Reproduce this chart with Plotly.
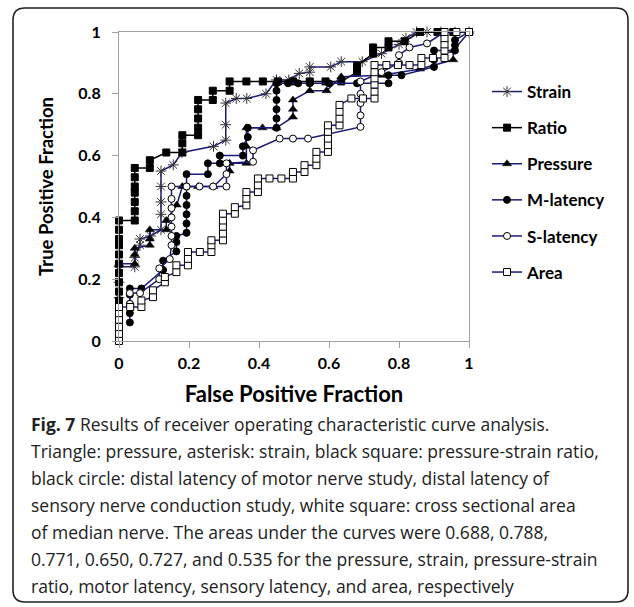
import plotly.graph_objects as go

# ---------------- data ----------------
strain_x = [0, 0, 0, 0.045, 0.045, 0.06, 0.06, 0.09, 0.12, 0.12, 0.12, 0.12, 0.12, 0.155, 0.18, 0.27,
            0.305, 0.305, 0.305, 0.335, 0.365, 0.42, 0.45, 0.485, 0.515, 0.545, 0.545, 0.605, 0.635,
            0.695, 0.75, 0.80, 0.82, 0.85, 0.88, 0.92, 0.96, 1.0]
strain_y = [0.14, 0.19, 0.24, 0.24, 0.27, 0.31, 0.33, 0.34, 0.36, 0.41, 0.45, 0.50, 0.55, 0.57, 0.61, 0.63,
            0.65, 0.70, 0.77, 0.785, 0.785, 0.80, 0.845, 0.845, 0.866, 0.87, 0.887, 0.887, 0.904,
            0.904, 0.93, 0.96, 0.98, 1.0, 1.0, 1.0, 1.0, 1.0]

ratio_x = [0, 0, 0, 0, 0, 0, 0, 0, 0, 0,
           0.045, 0.045, 0.045, 0.045, 0.045, 0.045, 0.045, 0.088, 0.088, 0.135, 0.181, 0.181, 0.181,
           0.226, 0.226, 0.226, 0.226, 0.226, 0.268, 0.268, 0.316, 0.316, 0.364, 0.411, 0.454, 0.497,
           0.545, 0.59, 0.635, 0.68, 0.68, 0.726, 0.726, 0.77, 0.77, 0.816, 0.86, 0.91, 0.955, 1.0]
ratio_y = [0.13, 0.16, 0.19, 0.22, 0.25, 0.28, 0.31, 0.33, 0.36, 0.39,
           0.39, 0.42, 0.45, 0.48, 0.50, 0.53, 0.56, 0.56, 0.585, 0.61, 0.61, 0.64, 0.666,
           0.666, 0.69, 0.72, 0.75, 0.78, 0.78, 0.81, 0.81, 0.84, 0.84, 0.84, 0.84, 0.84,
           0.84, 0.84, 0.84, 0.87, 0.89, 0.93, 0.95, 0.95, 0.97, 0.97, 1.0, 1.0, 1.0, 1.0]

pressure_x = [0, 0.045, 0.045, 0.045, 0.088, 0.088, 0.088, 0.135, 0.135, 0.165, 0.181, 0.226, 0.27,
              0.316, 0.316, 0.364, 0.364, 0.364, 0.41, 0.45, 0.497, 0.497, 0.497, 0.545, 0.593, 0.635,
              0.75, 0.86, 0.955, 0.955, 1.0]
pressure_y = [0.25, 0.25, 0.28, 0.30, 0.31, 0.33, 0.36, 0.36, 0.39, 0.44, 0.50, 0.50, 0.50,
              0.55, 0.575, 0.575, 0.63, 0.69, 0.69, 0.69, 0.725, 0.75, 0.78, 0.81, 0.81, 0.855,
              0.86, 0.88, 0.91, 0.94, 1.0]

mlat_x = [0.031, 0.031, 0.031, 0.031, 0.031, 0.064, 0.126, 0.126, 0.164, 0.164, 0.164, 0.193, 0.193,
          0.193, 0.193, 0.193, 0.193, 0.193, 0.254, 0.254, 0.288, 0.288, 0.354, 0.354, 0.368, 0.368,
          0.45, 0.45, 0.45, 0.45, 0.45, 0.45, 0.483, 0.512, 0.545, 0.60, 0.68, 0.77, 0.77, 0.807,
          0.90, 0.90, 0.90, 0.96, 0.96, 0.96, 1.0]
mlat_y = [0.06, 0.09, 0.12, 0.15, 0.17, 0.17, 0.23, 0.26, 0.29, 0.32, 0.34, 0.35, 0.38,
          0.41, 0.44, 0.47, 0.50, 0.54, 0.54, 0.575, 0.575, 0.60, 0.60, 0.63, 0.66, 0.69,
          0.69, 0.72, 0.75, 0.78, 0.81, 0.834, 0.834, 0.834, 0.834, 0.834, 0.834, 0.834, 0.86, 0.86,
          0.887, 0.91, 0.94, 0.94, 0.957, 0.974, 1.0]

slat_x = [0.031, 0.031, 0.06, 0.115, 0.115, 0.145, 0.15, 0.15, 0.15, 0.15, 0.15, 0.15, 0.15, 0.193,
          0.23, 0.269, 0.307, 0.307, 0.307, 0.383, 0.383, 0.459, 0.497, 0.54, 0.69, 0.69, 0.69, 0.69,
          0.69, 0.75, 0.80, 0.80, 0.83, 0.88, 0.93, 1.0]
slat_y = [0.12, 0.155, 0.155, 0.20, 0.235, 0.265, 0.31, 0.34, 0.37, 0.40, 0.43, 0.46, 0.50, 0.50,
          0.50, 0.50, 0.50, 0.54, 0.575, 0.58, 0.617, 0.655, 0.655, 0.655, 0.693, 0.73, 0.77, 0.80,
          0.84, 0.87, 0.90, 0.925, 0.95, 0.963, 1.0, 1.0]

area_x = [0, 0, 0, 0, 0, 0, 0.032, 0.064, 0.064, 0.097, 0.097, 0.131, 0.131, 0.164, 0.164, 0.197, 0.197,
          0.197, 0.231, 0.264, 0.264, 0.264, 0.297, 0.297, 0.297, 0.297, 0.297, 0.331, 0.331, 0.364,
          0.364, 0.364, 0.397, 0.397, 0.397, 0.43, 0.464, 0.497, 0.497, 0.53, 0.53, 0.564, 0.564, 0.564,
          0.597, 0.597, 0.597, 0.597, 0.597, 0.63, 0.63, 0.63, 0.63, 0.664, 0.697, 0.73, 0.73, 0.73,
          0.73, 0.73, 0.73, 0.764, 0.797, 0.83, 0.864, 0.864, 0.897, 0.93, 0.93, 0.93, 0.93, 0.93,
          0.964, 1.0]
area_y = [0, 0.023, 0.045, 0.069, 0.09, 0.11, 0.11, 0.11, 0.131, 0.142, 0.164, 0.19, 0.207, 0.223, 0.245,
          0.245, 0.266, 0.288, 0.288, 0.288, 0.31, 0.326, 0.326, 0.348, 0.37, 0.39, 0.412, 0.412, 0.433,
          0.439, 0.461, 0.482, 0.482, 0.504, 0.526, 0.526, 0.526, 0.526, 0.547, 0.547, 0.569, 0.569,
          0.59, 0.612, 0.612, 0.634, 0.655, 0.677, 0.698, 0.698, 0.72, 0.742, 0.764, 0.785, 0.785,
          0.785, 0.807, 0.83, 0.85, 0.87, 0.893, 0.893, 0.893, 0.893, 0.893, 0.916, 0.916, 0.916,
          0.94, 0.96, 0.98, 1.0, 1.0, 1.0]

tick_vals = [0, 0.2, 0.4, 0.6, 0.8, 1]
tick_text = ["0", "0.2", "0.4", "0.6", "0.8", "1"]

caption_lines = [
    "<b>Fig. 7</b> Results of receiver operating characteristic curve analysis.",
    "Triangle: pressure, asterisk: strain, black square: pressure-strain ratio,",
    "black circle: distal latency of motor nerve study, distal latency of",
    "sensory nerve conduction study, white square: cross sectional area",
    "of median nerve. The areas under the curves were 0.688, 0.788,",
    "0.771, 0.650, 0.727, and 0.535 for the pressure, strain, pressure-strain",
    "ratio, motor latency, sensory latency, and area, respectively",
]

# ---------------- styling ----------------
W, H = 634, 607
ML, MR, MT, MB = 119, 165, 32, 266
PW, PH = W - ML - MR, H - MT - MB
NAVY = "#1b1b78"
CHART_FONT = "Lato"
CAP_FONT = "Open Sans"


def px_x(p):
    return (p - ML) / PW


def px_y(p):
    return (H - MB - p) / PH


fig = go.Figure()

series = [
    ("Strain", strain_x, strain_y, NAVY, dict(symbol="asterisk-open", size=9, color="#333333",
                                              line=dict(color="#333333", width=1))),
    ("Ratio", ratio_x, ratio_y, "black", dict(symbol="square", size=7, color="black",
                                             line=dict(color="black", width=1))),
    ("Pressure", pressure_x, pressure_y, NAVY, dict(symbol="triangle-up", size=8, color="black",
                                                   line=dict(color="black", width=0.5))),
    ("M-latency", mlat_x, mlat_y, NAVY, dict(symbol="circle", size=7, color="black",
                                            line=dict(color="black", width=1))),
    ("S-latency", slat_x, slat_y, NAVY, dict(symbol="circle", size=7, color="white",
                                            line=dict(color="black", width=1))),
    ("Area", area_x, area_y, NAVY, dict(symbol="square", size=7, color="white",
                                       line=dict(color="black", width=1))),
]

for name, xs, ys, lc, mk in series:
    fig.add_trace(go.Scatter(
        x=xs, y=ys, name=name, mode="lines+markers",
        line=dict(color=lc, width=1.5),
        marker=mk, cliponaxis=False, legendgroup=name,
    ))

axis_common = dict(
    range=[0, 1], tickvals=tick_vals, ticktext=tick_text,
    showgrid=False, zeroline=False, showline=True, mirror=True,
    linecolor="#a0a0a0", linewidth=1.2, ticks="outside", ticklen=6,
    tickcolor="#a0a0a0", tickwidth=1.2,
    tickfont=dict(family=CHART_FONT, size=16, color="black", weight="bold"),
)

fig.update_xaxes(**axis_common, ticklabelstandoff=2,
                 title=dict(text="<b>False Positive Fraction</b>", standoff=15,
                            font=dict(family=CHART_FONT, size=22, color="black")))
fig.update_yaxes(**axis_common, ticklabelstandoff=8,
                 title=dict(text="<b>True Positive Fraction</b>", standoff=19,
                            font=dict(family=CHART_FONT, size=18.5, color="black")))

annotations = []
y0 = 424
for i, line in enumerate(caption_lines):
    annotations.append(dict(
        text=line, xref="paper", yref="paper", x=px_x(29), y=px_y(y0 + i * 27),
        xanchor="left", yanchor="middle", showarrow=False,
        font=dict(family=CAP_FONT, size=17.5, color="#222222"),
    ))

# rounded frame around the figure
x0, x1, yt, yb, r = 13, 628, 8, 602, 12
path = (f"M {px_x(x0 + r)},{px_y(yt)} L {px_x(x1 - r)},{px_y(yt)} "
        f"Q {px_x(x1)},{px_y(yt)} {px_x(x1)},{px_y(yt + r)} "
        f"L {px_x(x1)},{px_y(yb - r)} Q {px_x(x1)},{px_y(yb)} {px_x(x1 - r)},{px_y(yb)} "
        f"L {px_x(x0 + r)},{px_y(yb)} Q {px_x(x0)},{px_y(yb)} {px_x(x0)},{px_y(yb - r)} "
        f"L {px_x(x0)},{px_y(yt + r)} Q {px_x(x0)},{px_y(yt)} {px_x(x0 + r)},{px_y(yt)} Z")

fig.update_layout(
    width=W, height=H,
    margin=dict(l=ML, r=MR, t=MT, b=MB),
    paper_bgcolor="white", plot_bgcolor="white",
    showlegend=True,
    legend=dict(x=px_x(487), y=px_y(74), xanchor="left", yanchor="top",
                font=dict(family=CHART_FONT, size=17, color="black", weight="bold"),
                tracegroupgap=11, bgcolor="rgba(0,0,0,0)", itemwidth=30),
    annotations=annotations,
    shapes=[dict(type="path", path=path, xref="paper", yref="paper",
                 line=dict(color="#222222", width=1.6), layer="below")],
)

fig.write_html("out.html")
